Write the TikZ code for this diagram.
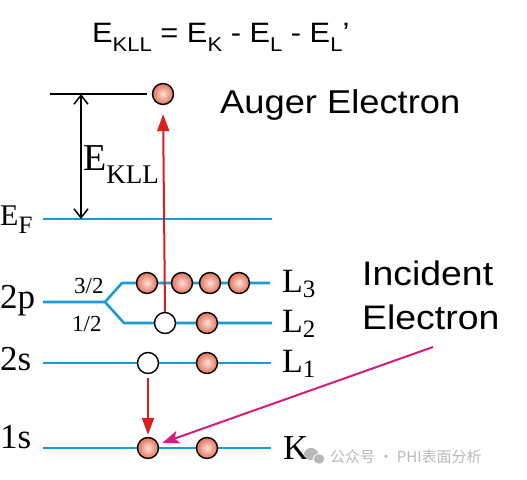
\documentclass[tikz,border=0pt]{standalone}
\usepackage{fontspec}
\setmainfont{Liberation Serif}
\newfontfamily\sansf[FakeStretch=1.1]{Liberation Sans}
\newfontfamily\cjkf{Noto Sans CJK SC}
\usetikzlibrary{arrows.meta}
\definecolor{lvlblue}{HTML}{1C9AD6}
\definecolor{arrred}{HTML}{D81E1E}
\definecolor{magen}{HTML}{D81B7E}
\definecolor{ballout}{HTML}{E2705A}
\definecolor{ballin}{HTML}{FCE2D8}
\definecolor{wmgray}{HTML}{B8B8B8}
\newcommand\lowsub[3]{\raisebox{#1}{\fontsize{#2}{#2}\selectfont #3}}
\begin{document}
\begin{tikzpicture}[x=1pt,y=-1pt,
  level/.style={draw=lvlblue, line width=2.6pt, line join=round},
  elec/.style={circle, draw=black, line width=1.4pt, minimum size=21pt, inner sep=0pt, inner color=ballin, outer color=ballout},
  hole/.style={circle, draw=black, line width=1.4pt, minimum size=21pt, inner sep=0pt, fill=white},
  lbl/.style={inner sep=0pt, anchor=base west},
  redarr/.style={draw=arrred, line width=2pt, -{Triangle[length=17pt,width=12pt]}},
  magarr/.style={draw=magen, line width=2pt, -{Stealth[length=17pt,width=13pt,inset=4pt]}},
  dblarr/.style={line width=1.5pt, {Straight Barb[length=9pt,width=14pt]}-{Straight Barb[length=9pt,width=14pt]}}
]
\useasboundingbox (0,0) rectangle (527,479);

% energy levels
\draw[level] (43,219) -- (272,219);
\draw[level] (43,302) -- (105,302) -- (122,283) -- (270,283);
\draw[level] (105,302) -- (124,323) -- (272,323);
\draw[level] (43,363) -- (271,363);
\draw[level] (43,448) -- (271,448);
\draw[line width=2pt] (50,94) -- (147,94);

% electrons and holes
\node[elec] (aug) at (163,94) {};
\node[elec] (l3a) at (147,283) {};
\node[elec] (l3b) at (182,283) {};
\node[elec] (l3c) at (210,283) {};
\node[elec] (l3d) at (239,283) {};
\node[hole] (h2) at (165,323) {};
\node[elec] (l2b) at (207,323) {};
\node[hole] (h1) at (148,363) {};
\node[elec] (l1b) at (207,363) {};
\node[elec] (k1) at (148,448) {};
\node[elec] (k2) at (207,448) {};

% arrows
\draw[redarr, shorten >=9pt] (h2.north) -- (aug.south);
\draw[redarr, shorten <=4pt, shorten >=2pt] (h1.south) -- (k1.north);
\coordinate (inc) at (433,347);
\draw[magarr, shorten >=4pt] (inc) -- (k1);
\coordinate (etop) at (81,94);
\coordinate (ebot) at (81,219);
\draw[dblarr] (etop) -- (ebot);

% texts
\node[lbl] (formula) at (92,42) {\sansf\fontsize{28}{28}\selectfont E\lowsub{-9pt}{20}{KLL} = E\lowsub{-9pt}{20}{K} - E\lowsub{-9pt}{20}{L} - E\lowsub{-9pt}{20}{L}’};
\node[lbl] (auger) at (220,113) {\sansf\fontsize{33}{33}\selectfont Auger Electron};
\node[lbl] (inc1) at (362,285) {\sansf\fontsize{34}{34}\selectfont Incident};
\node[lbl] (inc2) at (362,329) {\sansf\fontsize{34}{34}\selectfont Electron};
\node[lbl] (ekll) at (83,170) {\fontsize{38}{38}\selectfont E\lowsub{-13pt}{27}{KLL}};
\node[lbl] (ef) at (0,225) {\fontsize{30}{30}\selectfont E\lowsub{-8pt}{25}{F}};
\node[lbl] (p2) at (0,308) {\fontsize{35}{35}\selectfont 2p};
\node[lbl] (s2) at (0,370) {\fontsize{35}{35}\selectfont 2s};
\node[lbl] (s1) at (0,448) {\fontsize{35}{35}\selectfont 1s};
\node[lbl] (j32) at (74,293) {\fontsize{23}{23}\selectfont 3/2};
\node[lbl] (j12) at (72,331) {\fontsize{23}{23}\selectfont 1/2};
\node[lbl] (L3) at (282,292) {\fontsize{34}{34}\selectfont L\lowsub{-5pt}{25}{3}};
\node[lbl] (L2) at (282,332) {\fontsize{34}{34}\selectfont L\lowsub{-5pt}{25}{2}};
\node[lbl] (L1) at (282,372) {\fontsize{34}{34}\selectfont L\lowsub{-5pt}{25}{1}};
\node[lbl] (Kl) at (283,459) {\fontsize{35}{35}\selectfont K};

% watermark
\fill[wmgray] (311,454) ellipse (7pt and 6pt);
\fill[wmgray, draw=white, line width=0.8pt] (319,459) ellipse (6pt and 5pt);
\node[anchor=west, inner sep=0pt] (wm) at (330,457) {\cjkf\fontsize{15}{15}\selectfont\color{wmgray}公众号 · PHI表面分析};
\end{tikzpicture}
\end{document}
